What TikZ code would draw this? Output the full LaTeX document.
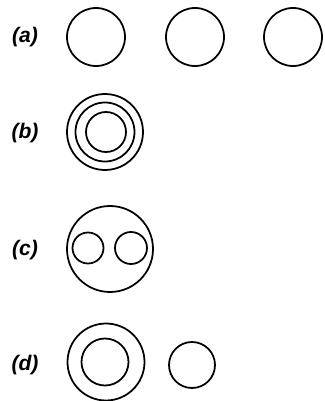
\documentclass[tikz,border=0pt]{standalone}
\usepackage{fontspec}
\setsansfont{Liberation Sans}
\usepackage{tikz}
\tikzset{
  ring/.style={circle, draw=black, line width=1.5pt, inner sep=0pt},
  caselabel/.style={font=\sffamily\itshape\bfseries\fontsize{18}{21}\selectfont}
}

\begin{document}
\begin{tikzpicture}[x=0.03cm, y=-0.03cm]
    \useasboundingbox (0,0) rectangle (324,401);

    % (a) three equal spheres
    \node[caselabel] (la) at (25, 37) {(a)};
    \node[ring, minimum size=58*0.03cm] (a1) at (96, 37) {};
    \node[ring, minimum size=58*0.03cm] (a2) at (195, 37) {};
    \node[ring, minimum size=58*0.03cm] (a3) at (293, 37) {};

    % (b) three concentric shells
    \node[caselabel] (lb) at (25, 133) {(b)};
    \node[ring, minimum size=76*0.03cm] (b1) at (105, 132) {};
    \node[ring, minimum size=59*0.03cm] (b2) at (105, 132) {};
    \node[ring, minimum size=40*0.03cm] (b3) at (106, 132) {};

    % (c) two inside one
    \node[caselabel] (lc) at (25, 250) {(c)};
    \node[ring, minimum size=86*0.03cm] (c1) at (110, 249) {};
    \node[ring, minimum size=31*0.03cm] (c2) at (88, 248) {};
    \node[ring, minimum size=32*0.03cm] (c3) at (131, 248) {};

    % (d) shell and a separate sphere
    \node[caselabel] (ld) at (25, 365) {(d)};
    \node[ring, minimum size=77*0.03cm] (d1) at (106, 362) {};
    \node[ring, minimum size=47*0.03cm] (d2) at (105, 362) {};
    \node[ring, minimum size=46*0.03cm] (d3) at (192, 365) {};
\end{tikzpicture}
\end{document}
